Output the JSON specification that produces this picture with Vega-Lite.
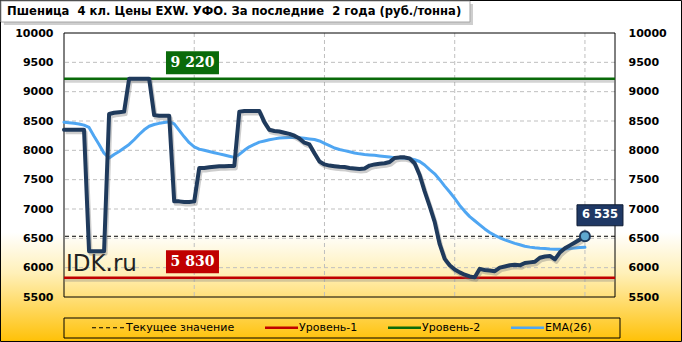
{
  "$schema": "https://vega.github.io/schema/vega-lite/v6.json",
  "width": 551,
  "height": 264,
  "autosize": {"type": "none"},
  "padding": {"left": 64, "top": 33, "right": 67, "bottom": 45},
  "background": "#FFFFFF",
  "config": {"view": {"stroke": null}, "font": "DejaVu Sans"},
  "datasets": {
    "series": [
      {"i":0,"price":8350,"ema":8480},{"i":1,"price":8350,"ema":8470},{"i":2,"price":8350,"ema":8460},{"i":3,"price":8350,"ema":8450},{"i":4,"price":8350,"ema":8430},
      {"i":5,"price":6280,"ema":8390},{"i":6,"price":6280,"ema":8240},{"i":7,"price":6280,"ema":8100},{"i":8,"price":6280,"ema":7950},{"i":9,"price":8620,"ema":7870},
      {"i":10,"price":8640,"ema":7930},{"i":11,"price":8650,"ema":7980},{"i":12,"price":8660,"ema":8040},{"i":13,"price":9220,"ema":8100},{"i":14,"price":9220,"ema":8180},
      {"i":15,"price":9220,"ema":8270},{"i":16,"price":9220,"ema":8350},{"i":17,"price":9220,"ema":8410},{"i":18,"price":8600,"ema":8440},{"i":19,"price":8590,"ema":8460},
      {"i":20,"price":8590,"ema":8475},{"i":21,"price":8590,"ema":8488},{"i":22,"price":7130,"ema":8450},{"i":23,"price":7130,"ema":8340},{"i":24,"price":7120,"ema":8230},
      {"i":25,"price":7120,"ema":8130},{"i":26,"price":7130,"ema":8060},{"i":27,"price":7700,"ema":8020},{"i":28,"price":7700,"ema":8000},{"i":29,"price":7710,"ema":7980},
      {"i":30,"price":7720,"ema":7960},{"i":31,"price":7730,"ema":7940},{"i":32,"price":7730,"ema":7920},{"i":33,"price":7735,"ema":7900},{"i":34,"price":7735,"ema":7880},
      {"i":35,"price":8660,"ema":7930},{"i":36,"price":8670,"ema":8000},{"i":37,"price":8670,"ema":8060},{"i":38,"price":8670,"ema":8100},{"i":39,"price":8670,"ema":8140},
      {"i":40,"price":8480,"ema":8160},{"i":41,"price":8350,"ema":8180},{"i":42,"price":8330,"ema":8195},{"i":43,"price":8320,"ema":8210},{"i":44,"price":8300,"ema":8215},
      {"i":45,"price":8280,"ema":8220},{"i":46,"price":8250,"ema":8222},{"i":47,"price":8200,"ema":8215},{"i":48,"price":8130,"ema":8205},{"i":49,"price":8100,"ema":8195},
      {"i":50,"price":7950,"ema":8185},{"i":51,"price":7810,"ema":8160},{"i":52,"price":7760,"ema":8120},{"i":53,"price":7740,"ema":8080},{"i":54,"price":7730,"ema":8040},
      {"i":55,"price":7720,"ema":8015},{"i":56,"price":7715,"ema":7995},{"i":57,"price":7700,"ema":7975},{"i":58,"price":7690,"ema":7955},{"i":59,"price":7680,"ema":7940},
      {"i":60,"price":7690,"ema":7930},{"i":61,"price":7740,"ema":7922},{"i":62,"price":7760,"ema":7915},{"i":63,"price":7770,"ema":7905},{"i":64,"price":7780,"ema":7895},
      {"i":65,"price":7800,"ema":7885},{"i":66,"price":7870,"ema":7875},{"i":67,"price":7880,"ema":7870},{"i":68,"price":7880,"ema":7865},{"i":69,"price":7860,"ema":7860},
      {"i":70,"price":7780,"ema":7840},{"i":71,"price":7580,"ema":7810},{"i":72,"price":7300,"ema":7750},{"i":73,"price":7050,"ema":7670},{"i":74,"price":6780,"ema":7600},
      {"i":75,"price":6400,"ema":7500},{"i":76,"price":6150,"ema":7390},{"i":77,"price":6040,"ema":7290},{"i":78,"price":5970,"ema":7180},{"i":79,"price":5920,"ema":7060},
      {"i":80,"price":5880,"ema":6960},{"i":81,"price":5850,"ema":6870},{"i":82,"price":5835,"ema":6800},{"i":83,"price":5980,"ema":6730},{"i":84,"price":5960,"ema":6660},
      {"i":85,"price":5950,"ema":6600},{"i":86,"price":5940,"ema":6550},{"i":87,"price":6000,"ema":6510},{"i":88,"price":6020,"ema":6475},{"i":89,"price":6040,"ema":6445},
      {"i":90,"price":6050,"ema":6415},{"i":91,"price":6040,"ema":6390},{"i":92,"price":6080,"ema":6365},{"i":93,"price":6090,"ema":6350},{"i":94,"price":6100,"ema":6338},
      {"i":95,"price":6170,"ema":6330},{"i":96,"price":6190,"ema":6325},{"i":97,"price":6200,"ema":6318},{"i":98,"price":6140,"ema":6313},{"i":99,"price":6260,"ema":6315},
      {"i":100,"price":6330,"ema":6320},{"i":101,"price":6380,"ema":6328},{"i":102,"price":6430,"ema":6335},{"i":103,"price":6480,"ema":6342},{"i":104,"price":6535,"ema":6347}
    ],
    "levels": [
      {"series": "Текущее значение", "value": 6535, "label": "6 535"},
      {"series": "Уровень-1", "value": 5830, "label": "5 830"},
      {"series": "Уровень-2", "value": 9220, "label": "9 220"}
    ],
    "gridy": [{"v":6000},{"v":6500},{"v":7000},{"v":7500},{"v":8000},{"v":8500},{"v":9000},{"v":9500}],
    "gridx": [{"v":26},{"v":52},{"v":78},{"v":104}],
    "watermark": [{"t": "IDK.ru"}],
    "heading": [{"t": "Пшеница\u00a0 4 кл. Цены EXW. УФО. За последние\u00a0 2 года (руб./тонна)"}],
    "one": [{}]
  },
  "layer": [
    {
      "data": {"name": "one"},
      "mark": {"type": "rect", "clip": false, "stroke": "#000000", "strokeWidth": 1,
        "fill": {"gradient": "linear", "x1": 0, "y1": 0, "x2": 0, "y2": 1,
          "stops": [{"offset": 0, "color": "#FFFFFF"}, {"offset": 0.68, "color": "#FFFFFF"}, {"offset": 0.8, "color": "#FFF0B8"}, {"offset": 1, "color": "#FFC107"}]}},
      "encoding": {
        "x": {"datum": -12.68, "type": "quantitative", "scale": {"domain": [0, 110], "nice": false, "zero": false}, "axis": null},
        "x2": {"datum": 123.28},
        "y": {"datum": 10554, "type": "quantitative", "scale": {"domain": [5500, 10000], "nice": false, "zero": false}, "axis": null},
        "y2": {"datum": 4741.5}
      }
    },
    {
      "data": {"name": "one"},
      "mark": {"type": "rect", "clip": false, "fill": "#9E9E9E", "opacity": 0.5},
      "encoding": {
        "x": {"datum": -12.0, "type": "quantitative", "axis": null},
        "x2": {"datum": 81.65},
        "y": {"datum": 10494, "type": "quantitative", "axis": null},
        "y2": {"datum": 10136}
      }
    },
    {
      "data": {"name": "one"},
      "mark": {"type": "rect", "clip": false, "fill": "#FFFFFF", "stroke": "#A6A6A6", "strokeWidth": 1},
      "encoding": {
        "x": {"datum": -12.58, "type": "quantitative", "axis": null},
        "x2": {"datum": 81.05},
        "y": {"datum": 10545, "type": "quantitative", "axis": null},
        "y2": {"datum": 10187}
      }
    },
    {
      "data": {"name": "heading"},
      "mark": {"type": "text", "clip": false, "align": "left", "baseline": "middle", "font": "DejaVu Sans", "fontSize": 11.6, "fontWeight": "bold", "color": "#000000"},
      "encoding": {
        "x": {"datum": -11.38, "type": "quantitative", "axis": null},
        "y": {"datum": 10358, "type": "quantitative", "axis": null},
        "text": {"field": "t"}
      }
    },
    {
      "data": {"name": "one"},
      "mark": {"type": "rect", "clip": false, "fillOpacity": 0, "stroke": "#000000", "strokeWidth": 1},
      "encoding": {
        "x": {"datum": 0, "type": "quantitative", "axis": null},
        "x2": {"datum": 111.0},
        "y": {"datum": 5142, "type": "quantitative", "axis": null},
        "y2": {"datum": 4801}
      }
    },
    {
      "data": {"name": "gridy"},
      "mark": {"type": "rule", "stroke": "#BFBFBF", "strokeWidth": 1, "strokeDash": [4, 3]},
      "encoding": {"y": {"field": "v", "type": "quantitative", "axis": null}}
    },
    {
      "data": {"name": "gridx"},
      "mark": {"type": "rule", "stroke": "#BFBFBF", "strokeWidth": 1, "strokeDash": [4, 3]},
      "encoding": {"x": {"field": "v", "type": "quantitative", "axis": null}}
    },
    {
      "data": {"name": "one"},
      "mark": {"type": "rect", "fillOpacity": 0, "stroke": "#000000", "strokeWidth": 1},
      "encoding": {
        "x": {"datum": 0, "type": "quantitative", "axis": null},
        "x2": {"datum": 110},
        "y": {"datum": 5500, "type": "quantitative", "axis": null},
        "y2": {"datum": 10000}
      }
    },
    {
      "data": {"name": "watermark"},
      "mark": {"type": "text", "align": "left", "baseline": "middle", "font": "DejaVu Sans", "fontSize": 23, "color": "#222222"},
      "encoding": {
        "x": {"datum": 0.4, "type": "quantitative", "axis": null},
        "y": {"datum": 6063, "type": "quantitative", "axis": null},
        "text": {"field": "t"}
      }
    },
    {
      "data": {"name": "levels"},
      "transform": [{"filter": "datum.series !== 'Текущее значение'"}],
      "mark": {"type": "rule", "strokeWidth": 3, "color": "#808080", "opacity": 0.35, "yOffset": 2.5},
      "encoding": {"y": {"field": "value", "type": "quantitative", "axis": null}}
    },
    {
      "data": {"name": "levels"},
      "transform": [{"filter": "datum.series !== 'Текущее значение'"}],
      "mark": {"type": "rule", "strokeWidth": 2.5},
      "encoding": {
        "y": {"field": "value", "type": "quantitative", "axis": null},
        "color": {
          "field": "series", "type": "nominal",
          "scale": {"domain": ["Текущее значение", "Уровень-1", "Уровень-2", "EMA(26)"], "range": ["#000000", "#C00000", "#0A6A0A", "#4FA6F2"]},
          "legend": {
            "title": null, "orient": "none", "legendX": 35, "legendY": 285, "direction": "horizontal", "columns": 4,
            "symbolType": "stroke", "symbolSize": 1089, "symbolStrokeWidth": 2.5,
            "labelFont": "DejaVu Sans", "labelFontSize": 11, "labelColor": "#000000", "labelOffset": 12,
            "columnPadding": 25, "padding": 4, "strokeColor": null, "zindex": 1,
            "encode": {"symbols": {"update": {
              "strokeDash": {"signal": "datum.value === 'Текущее значение' ? [4, 3] : [1, 0]"},
              "strokeWidth": {"signal": "datum.value === 'Текущее значение' ? 1 : 2.5"}
            }}}
          }
        }
      }
    },
    {
      "data": {"name": "levels"},
      "transform": [{"filter": "datum.series === 'Текущее значение'"}],
      "mark": {"type": "rule", "strokeWidth": 1, "strokeDash": [4, 3]},
      "encoding": {
        "y": {"field": "value", "type": "quantitative", "axis": null},
        "color": {"field": "series", "type": "nominal"}
      }
    },
    {
      "data": {"name": "series"},
      "mark": {"type": "line", "strokeWidth": 3, "strokeJoin": "round", "strokeCap": "round"},
      "encoding": {
        "x": {"field": "i", "type": "quantitative", "axis": null},
        "y": {"field": "ema", "type": "quantitative", "scale": {"domain": [5500, 10000], "nice": false, "zero": false},
          "axis": {"orient": "right", "values": [5500, 6000, 6500, 7000, 7500, 8000, 8500, 9000, 9500, 10000], "format": "d", "grid": false, "domain": false, "ticks": false,
            "labelPadding": 13, "labelFont": "DejaVu Sans", "labelFontSize": 11, "labelFontWeight": "bold", "labelColor": "#000000", "title": null, "zindex": 1}},
        "color": {"datum": "EMA(26)", "type": "nominal"}
      }
    },
    {
      "data": {"name": "series"},
      "mark": {"type": "line", "strokeWidth": 4, "color": "#707070", "opacity": 0.35, "xOffset": 1.5, "yOffset": 2.5, "strokeJoin": "round"},
      "encoding": {
        "x": {"field": "i", "type": "quantitative", "axis": null},
        "y": {"field": "price", "type": "quantitative", "axis": null}
      }
    },
    {
      "data": {"name": "series"},
      "mark": {"type": "line", "strokeWidth": 4, "color": "#1F3A5C", "strokeJoin": "round", "strokeCap": "round"},
      "encoding": {
        "x": {"field": "i", "type": "quantitative", "scale": {"domain": [0, 110], "nice": false, "zero": false},
          "axis": {"values": [0, 26, 52, 78, 104], "labelExpr": "datum.value == 0 ? '01.04.2016' : datum.value == 26 ? '30.09.2016' : datum.value == 52 ? '17.04.2017' : datum.value == 78 ? '23.10.2017' : '30.04.2018'",
            "grid": false, "domain": false, "ticks": false, "labelPadding": 6, "labelFont": "DejaVu Sans", "labelFontSize": 9.5, "labelFontWeight": "bold",
            "labelColor": "#000000", "title": null, "zindex": 1, "labelFlush": false, "labelOverlap": false}},
        "y": {"field": "price", "type": "quantitative", "scale": {"domain": [5500, 10000], "nice": false, "zero": false},
          "axis": {"orient": "left", "values": [5500, 6000, 6500, 7000, 7500, 8000, 8500, 9000, 9500, 10000], "format": "d", "grid": false, "domain": false, "ticks": false,
            "labelPadding": 11, "labelFont": "DejaVu Sans", "labelFontSize": 11, "labelFontWeight": "bold", "labelColor": "#000000", "title": null, "zindex": 1}}
      }
    },
    {
      "data": {"name": "levels"},
      "transform": [{"filter": "datum.series === 'Уровень-2'"}],
      "mark": {"type": "rect", "width": 53, "height": 23, "yOffset": -16, "fill": "#0A6A0A"},
      "encoding": {
        "x": {"datum": 25.65, "type": "quantitative", "axis": null},
        "y": {"field": "value", "type": "quantitative", "axis": null}
      }
    },
    {
      "data": {"name": "levels"},
      "transform": [{"filter": "datum.series === 'Уровень-1'"}],
      "mark": {"type": "rect", "width": 53, "height": 23, "yOffset": -16, "fill": "#C00000"},
      "encoding": {
        "x": {"datum": 25.65, "type": "quantitative", "axis": null},
        "y": {"field": "value", "type": "quantitative", "axis": null}
      }
    },
    {
      "data": {"name": "levels"},
      "transform": [{"filter": "datum.series !== 'Текущее значение'"}],
      "mark": {"type": "text", "yOffset": -16, "align": "center", "baseline": "middle", "font": "DejaVu Serif", "fontSize": 14, "fontWeight": "bold", "color": "#FFFFFF"},
      "encoding": {
        "x": {"datum": 25.65, "type": "quantitative", "axis": null},
        "y": {"field": "value", "type": "quantitative", "axis": null},
        "text": {"field": "label"}
      }
    },
    {
      "data": {"name": "levels"},
      "transform": [{"filter": "datum.series === 'Текущее значение'"}],
      "mark": {"type": "rect", "width": 46, "height": 21, "yOffset": -21, "fill": "#1F3864", "stroke": "#0E1C33", "strokeWidth": 1},
      "encoding": {
        "x": {"datum": 107, "type": "quantitative", "axis": null},
        "y": {"field": "value", "type": "quantitative", "axis": null}
      }
    },
    {
      "data": {"name": "levels"},
      "transform": [{"filter": "datum.series === 'Текущее значение'"}],
      "mark": {"type": "text", "yOffset": -21, "align": "center", "baseline": "middle", "font": "DejaVu Sans", "fontSize": 11.5, "fontWeight": "bold", "color": "#FFFFFF"},
      "encoding": {
        "x": {"datum": 107, "type": "quantitative", "axis": null},
        "y": {"field": "value", "type": "quantitative", "axis": null},
        "text": {"field": "label"}
      }
    },
    {
      "data": {"name": "series"},
      "transform": [{"filter": "datum.i === 104"}],
      "mark": {"type": "point", "filled": true, "size": 100, "fill": "#5FA8CF", "stroke": "#1F3A5C", "strokeWidth": 2, "opacity": 1},
      "encoding": {
        "x": {"field": "i", "type": "quantitative", "axis": null},
        "y": {"field": "price", "type": "quantitative", "axis": null}
      }
    }
  ]
}
